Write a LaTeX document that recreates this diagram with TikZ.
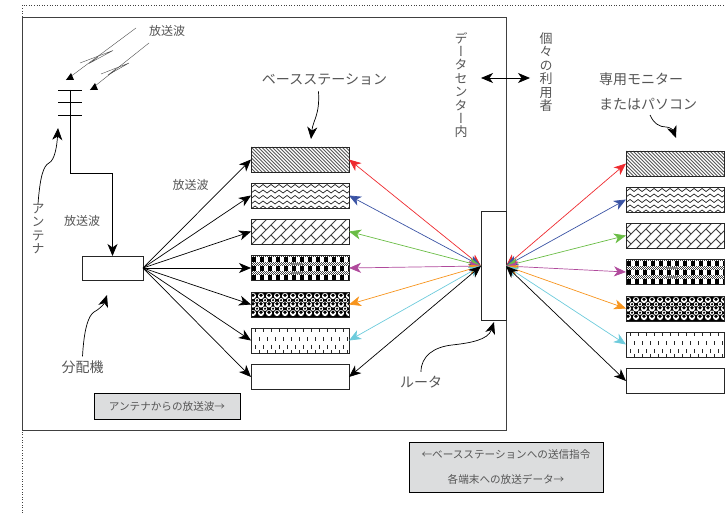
\documentclass[tikz,border=0pt]{standalone}
\usepackage{fontspec}
\setmainfont{Noto Sans CJK JP}
\newfontfamily\vfont[RawFeature=+vert]{Noto Sans CJK JP}
\usetikzlibrary{arrows.meta}
\definecolor{txt}{HTML}{555555}
\definecolor{boxgray}{HTML}{DCDDDE}
\definecolor{cred}{HTML}{EE2A2F}
\definecolor{cblue}{HTML}{3A53A4}
\definecolor{cgreen}{HTML}{6ABD45}
\definecolor{cpurple}{HTML}{B04A9C}
\definecolor{corange}{HTML}{F7941D}
\definecolor{ccyan}{HTML}{6DCBDC}
\newcommand{\patshift}{\pgftransformshift{\pgfpoint{-49pt}{12.5pt}}}
\tikzset{
  x=1pt,y=-1pt,
  tip/.style={-{Stealth[length=12pt,width=10pt,inset=3.5pt]}},
  tips/.style={{Stealth[length=12pt,width=10pt,inset=3.5pt]}-{Stealth[length=12pt,width=10pt,inset=3.5pt]}},
  link/.style={line width=.7pt,#1},
  link/.default=black,
  lbl/.style={text=txt,inner sep=0pt,font=\fontsize{12}{13}\selectfont},
  lblb/.style={text=txt,inner sep=0pt,font=\fontsize{14}{14}\selectfont},
  vlbl/.style={text=txt,inner sep=0pt,align=center,font=\vfont\fontsize{13}{13.4}\selectfont},
  note/.style={draw=black,line width=.8pt,fill=boxgray,inner sep=0pt,outer sep=0pt,text=txt,align=center,font=\fontsize{10.6}{25}\selectfont},
  plain/.style={draw=black!85,line width=.9pt,fill=white,inner sep=0pt,outer sep=0pt},
  stn/.style={plain,minimum width=98pt,minimum height=25pt},
  p1/.style={path picture={\begin{scope}\patshift
    \foreach \i in {-28,-24.5,...,100}{\draw[line width=.8pt,black!65] (\i,0)--(\i+26,26);}
  \end{scope}}},
  p2/.style={path picture={\begin{scope}\patshift
    \foreach \r in {3,8.5,14,19.5,24.5}{
      \foreach \i in {0,8,...,96}{\draw[line width=.7pt] (\i,\r+1.5)--(\i+4,\r-1.5)--(\i+8,\r+1.5);}}
  \end{scope}}},
  p3/.style={path picture={\begin{scope}\patshift
    \foreach \i in {-30,-10,...,120}{
      \draw[line width=.8pt,black!75] (\i-12,38)--(\i+26,0);
      \draw[line width=.8pt,black!75] (\i-2,38)--(\i+36,0);
      \foreach \t in {-20,-10,...,40}{
        \draw[line width=.8pt,black!75] (\i+\t,26-\t)--(\i+\t+5,31-\t);
        \draw[line width=.8pt,black!75] (\i+\t+10,26-\t)--(\i+\t+15,31-\t);}}
  \end{scope}}},
  p4/.style={path picture={\begin{scope}\patshift
    \foreach \i in {0,2,...,98}{\foreach \r in {0,4,8,12,16,20,24}{
      \fill[black!75] (\i,\r) rectangle +(1,1);\fill[black!75] (\i+1,\r+1) rectangle +(1,1);
      \fill[black!75] (\i,\r+2) rectangle +(1,1);\fill[black!75] (\i+1,\r+3) rectangle +(1,1);}}
    \foreach \i in {1,9,...,97}{\foreach \r in {1,10,19}{\fill[black] (\i,\r) rectangle +(4,5);\fill[white] (\i+4,\r) rectangle +(4,5);}}
    \fill[black!50] (40,7.5) rectangle (52,9.5);\fill[black!50] (40,16) rectangle (52,18);
  \end{scope}}},
  p5/.style={path picture={\begin{scope}\patshift
    \fill[black] (0,0) rectangle (100,26);
    \foreach \i in {0,8,...,96}{\foreach \r in {4,12.5,21}{
      \fill[white] (\i+2,\r) circle[radius=3.1];\fill[black] (\i+2,\r-.8) circle[radius=1.9];}}
    \foreach \i in {4,12,...,100}{\foreach \r in {8.2,16.7}{
      \fill[white] (\i+2,\r) circle[radius=2.2];\fill[black] (\i+2,\r) circle[radius=1.2];}}
  \end{scope}}},
  p6/.style={path picture={\begin{scope}\patshift
    \foreach \i in {4,12,...,98}{
      \draw[line width=1pt] (\i,0)--(\i,4);\draw[line width=1pt] (\i,17)--(\i,21);
      \draw[line width=1pt] (\i+4,9)--(\i+4,13);\draw[line width=1pt] (\i+4,22)--(\i+4,26);}
  \end{scope}}},
}
\begin{document}
\begin{tikzpicture}
\useasboundingbox (0,0) rectangle (725,513);
% dotted sheet edge and frame
\draw[dotted,line width=.6pt,black!75] (22,513)--(22,5)--(725,5);
\node[draw=black!75,line width=1pt,inner sep=0pt,outer sep=0pt,minimum width=484pt,minimum height=412pt] (frame) at (264,224) {};
% boxes
\node[stn,p1] (a1) at (300,159.5) {};
\node[stn,p2] (a2) at (300,195.5) {};
\node[stn,p3] (a3) at (300,231.5) {};
\node[stn,p4] (a4) at (300,268) {};
\node[stn,p5] (a5) at (300,304.5) {};
\node[stn,p6] (a6) at (300,340.5) {};
\node[stn] (a7) at (300,377) {};
\node[stn,p1] (b1) at (675,163.5) {};
\node[stn,p2] (b2) at (675,199.5) {};
\node[stn,p3] (b3) at (675,235.5) {};
\node[stn,p4] (b4) at (675,272) {};
\node[stn,p5] (b5) at (675,308.5) {};
\node[stn,p6] (b6) at (675,344.5) {};
\node[stn] (b7) at (675,381) {};
\node[plain,minimum width=61pt,minimum height=24pt] (split) at (112.5,268) {};
\node[plain,minimum width=25pt,minimum height=109pt] (router) at (493.5,266) {};
% antenna
\coordinate (mastT) at (70,90);
\coordinate (mastB) at (70,173);
\coordinate (c1l) at (58,90);\coordinate (c1r) at (82,90);
\coordinate (c2l) at (58,102.5);\coordinate (c2r) at (82,102.5);
\coordinate (c3l) at (58,115);\coordinate (c3r) at (82,115);
\draw[line width=.7pt] (c1l)--(c1r) (c2l)--(c2r) (c3l)--(c3r);
\draw[line width=.8pt,tip] (mastT)--(mastB)-|(split.north);
% incoming waves
\coordinate (w1a) at (136,28);\coordinate (w1b) at (66,80);
\coordinate (w2a) at (149,43);\coordinate (w2b) at (90,90);
\draw[line width=.4pt,black!70] (w1a)--(w1b);
\draw[line width=.4pt,black!70] (w2a)--(w2b);
\fill (w1b) -- ++(8,0) -- ++(-3,-7) -- cycle;
\fill (w2b) -- ++(8,0) -- ++(-3,-7) -- cycle;
\draw[line width=.4pt,black!70] (80,63)--(113,50.5)--(89,63.5)--(98,57);
\draw[line width=.4pt,black!70] (101,74)--(129,63)--(108,75)--(116,69);
% fan from splitter
\foreach \n in {a1,a2,a3,a4,a5,a6,a7}{\draw[link,tip] (split.east)--(\n.west);}
% coloured links
\foreach \n/\c in {1/cred,2/cblue,3/cgreen,4/cpurple,5/corange,6/ccyan,7/black}{
  \draw[link=\c,tips] (router.west)--(a\n.east);
  \draw[link=\c,tips] (router.east)--(b\n.west);
}
% labels
\node[lbl] (t1) at (167,31) {放送波};
\node[lbl] (t2) at (190.5,184.5) {放送波};
\node[lbl] (t3) at (82,220.5) {放送波};
\node[vlbl] (ant) at (38,229) {ア\\ン\\テ\\ナ};
\node[lblb] (base) at (324.5,79.5) {ベースステーション};
\node[lblb] (mon1) at (641,79) {専用モニター};
\node[lblb] (mon2) at (648,104) {またはパソコン};
\node[vlbl] (dc) at (461,85) {デ\\ー\\タ\\セ\\ン\\タ\\ー\\内};
\node[vlbl] (user) at (546,72) {個\\々\\の\\利\\用\\者};
\node[lblb] (dist) at (82.5,367) {分配機};
\node[lblb] (rt) at (421,382) {ルータ};
\node[note,minimum width=146pt,minimum height=26pt] (n1) at (167,406) {アンテナからの放送波→};
\node[note,minimum width=194pt,minimum height=50pt] (n2) at (506,467) {←ベースステーションへの送信指令\\各端末への放送データ→};
% callouts
\coordinate (antTip) at (58,128);
\coordinate (baseTip) at (311,139);
\coordinate (distTip) at (107,295);
\coordinate (rtTip) at (494,322);
\coordinate (monTip) at (676,138);
\coordinate (dL) at (481,78);\coordinate (dR) at (530,78);
\draw[line width=.7pt,tip] (ant.north) .. controls (40,178) and (43,166) .. (49,163) .. controls (55,160) and (57,145) .. (antTip);
\draw[line width=.7pt,tip] (base.south) ++(-6,6) .. controls (320,115) and (313,120) .. (baseTip);
\draw[line width=.7pt,tip] (dist.north) ++(0,-4) .. controls (84,330) and (88,316) .. (94,312) .. controls (101,308) and (104,304) .. (distTip);
\draw[line width=.7pt,tip] (rt.north) ++(0,-4) .. controls (421,356) and (434,347) .. (452,345) .. controls (470,343) and (488,340) .. (rtTip);
\draw[line width=.7pt,tip] (650,115) .. controls (654,124) and (660,127) .. (666,127) .. controls (670,127) and (673,130) .. (monTip);
\draw[line width=.8pt,tips] (dL)--(dR);
\end{tikzpicture}
\end{document}
